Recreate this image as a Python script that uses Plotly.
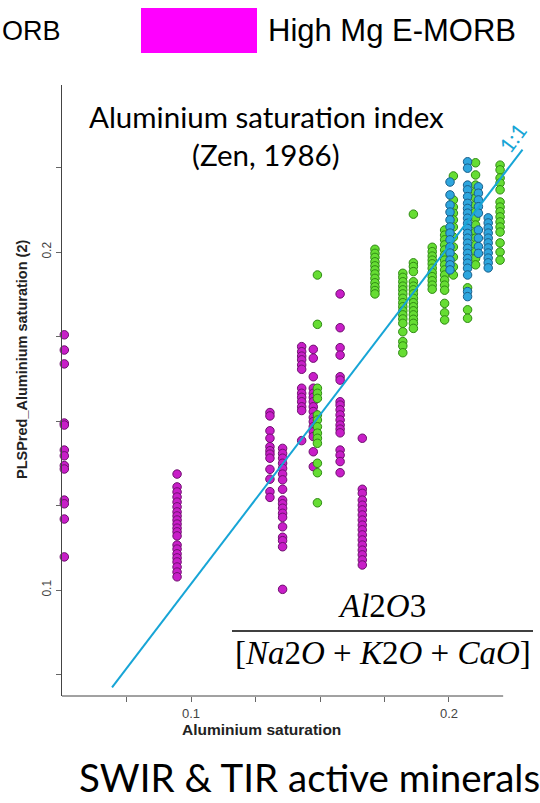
import plotly.graph_objects as go

# ---------------- data ----------------
# High Mg E-MORB (magenta) columns: x value and y values
mag_x = [0.0509, 0.0946, 0.1306, 0.1355, 0.1429, 0.1474, 0.1578, 0.1664]
mag_y = [
    [0.1755, 0.1710, 0.1669, 0.1494, 0.1488, 0.1414, 0.1397, 0.1368, 0.1358, 0.1266, 0.1255, 0.1210, 0.1098],
    [0.1343, 0.1305, 0.1290, 0.1275, 0.1260, 0.1246, 0.1231, 0.1219, 0.1207, 0.1195, 0.1183, 0.1172,
     0.1160, 0.1133, 0.1121, 0.1107, 0.1095, 0.1083, 0.1068, 0.1053, 0.1039],
    [0.1525, 0.1515, 0.1471, 0.1449, 0.1424, 0.1412, 0.1402, 0.1390, 0.1357, 0.1328, 0.1291, 0.1274],
    [0.1419, 0.1404, 0.1390, 0.1375, 0.1360, 0.1343, 0.1326, 0.1298, 0.1266, 0.1255, 0.1242, 0.1227,
     0.1215, 0.1187, 0.1156, 0.1146, 0.1128, 0.1002],
    [0.1720, 0.1705, 0.1692, 0.1681, 0.1666, 0.1653, 0.1597, 0.1582, 0.1570, 0.1557, 0.1542, 0.1531, 0.1442],
    [0.1712, 0.1686, 0.1631, 0.1597, 0.1582, 0.1570, 0.1557, 0.1542, 0.1528, 0.1511, 0.1498, 0.1483,
     0.1468, 0.1454, 0.1409, 0.1365],
    [0.1876, 0.1776, 0.1717, 0.1695, 0.1631, 0.1621, 0.1557, 0.1547, 0.1533, 0.1518, 0.1503, 0.1488,
     0.1476, 0.1465, 0.1414, 0.1399, 0.1380, 0.1347],
    [0.1449, 0.1298, 0.1286, 0.1266, 0.1251, 0.1237, 0.1222, 0.1207, 0.1192, 0.1178, 0.1163, 0.1148,
     0.1133, 0.1118, 0.1104, 0.1089, 0.1074],
]

# green series columns
grn_x = [0.1490, 0.1713, 0.1821, 0.1862, 0.1935, 0.1983, 0.2017, 0.2072, 0.2103, 0.2198]
grn_y = [
    [0.1932, 0.1786, 0.1597, 0.1582, 0.1567, 0.1518, 0.1503, 0.1483, 0.1464, 0.1449, 0.1434, 0.1375, 0.1347, 0.1258],
    [0.2008, 0.1996, 0.1984, 0.1971, 0.1959, 0.1947, 0.1935, 0.1922, 0.1909, 0.1897, 0.1886, 0.1876],
    [0.1937, 0.1925, 0.1912, 0.1899, 0.1888, 0.1876, 0.1863, 0.1850, 0.1838, 0.1826, 0.1814, 0.1802,
     0.1789, 0.1764, 0.1735, 0.1722, 0.1702],
    [0.2112, 0.1968, 0.1957, 0.1942, 0.1912, 0.1899, 0.1888, 0.1876, 0.1863, 0.1850, 0.1838, 0.1826,
     0.1814, 0.1801, 0.1789, 0.1774],
    [0.2014, 0.2001, 0.1988, 0.1976, 0.1965, 0.1952, 0.1939, 0.1927, 0.1915, 0.1902, 0.1890],
    [0.2065, 0.2050, 0.2036, 0.2021, 0.2006, 0.1991, 0.1976, 0.1962, 0.1947, 0.1932, 0.1917, 0.1902,
     0.1887, 0.1848, 0.1820, 0.1799],
    [0.2225, 0.2154, 0.2133, 0.2115, 0.2095, 0.2074, 0.2044, 0.2015, 0.1985, 0.1956, 0.1932],
    [0.1894, 0.1829, 0.1804],
    [0.2264, 0.2228, 0.2198, 0.2178, 0.2159, 0.2139, 0.2119, 0.2100, 0.2080, 0.2060, 0.2041, 0.2021,
     0.2001, 0.1981, 0.1962],
    [0.2257, 0.2243, 0.2219, 0.2204, 0.2184, 0.2148, 0.2133, 0.2119, 0.2104, 0.2089, 0.2074, 0.2059,
     0.2027, 0.2000, 0.1976],
]

# blue series columns
blu_x = [0.2004, 0.2072, 0.2114, 0.2152]
blu_y = [
    [0.2207, 0.2169, 0.2139, 0.2118, 0.2095, 0.2074, 0.2056, 0.2036, 0.2015, 0.1997, 0.1976, 0.1962, 0.1947],
    [0.2267, 0.2248, 0.2198, 0.2184, 0.2164, 0.2144, 0.2129, 0.2115, 0.2100, 0.2085, 0.2070, 0.2055,
     0.2041, 0.2026, 0.2011, 0.1996, 0.1981, 0.1967, 0.1952, 0.1932, 0.1883, 0.1868],
    [0.2193, 0.2174, 0.2154, 0.2134, 0.2115, 0.2065, 0.2041, 0.2016, 0.1996],
    [0.2101, 0.2086, 0.2071, 0.2056, 0.2041, 0.2027, 0.2012, 0.1997, 0.1982, 0.1968, 0.1953],
]

# 1:1 reference line (as drawn)
ref_x = [0.0694, 0.2285]
ref_y = [0.0712, 0.2303]

x_tick_vals = [0.075, 0.1, 0.125, 0.15, 0.175, 0.2]
x_tick_text = ["", "0.1", "", "", "", "0.2"]
y_tick_vals = [0.075, 0.1, 0.125, 0.15, 0.175, 0.2, 0.225]
y_tick_text = ["", "0.1", "", "", "", "0.2", ""]

X_RANGE = [0.05, 0.22946]
Y_RANGE = [0.06864, 0.24941]
X_AXIS_END = 0.221


def flatten(xs, ys):
    fx, fy = [], []
    for xv, col in zip(xs, ys):
        for yv in col:
            fx.append(xv)
            fy.append(yv)
    return fx, fy


fig = go.Figure()

series = [
    ("High Mg E-MORB", mag_x, mag_y, "#c81ec8", "#6e106e"),
    ("N-MORB", grn_x, grn_y, "#66dd33", "#2f8a14"),
    ("Other", blu_x, blu_y, "#2ea6de", "#1a5f8a"),
]
for name, xs, ys, fill, edge in series:
    fx, fy = flatten(xs, ys)
    fig.add_trace(go.Scatter(
        x=fx, y=fy, mode="markers", name=name, showlegend=False,
        marker=dict(size=8.5, color=fill, line=dict(color=edge, width=1)),
        cliponaxis=False,
    ))

fig.add_trace(go.Scatter(
    x=ref_x, y=ref_y, mode="lines", showlegend=False,
    line=dict(color="#17a5d6", width=2), cliponaxis=False,
))

fig.update_layout(
    width=540, height=803,
    margin=dict(l=62, r=15, t=85, b=107),
    paper_bgcolor="white", plot_bgcolor="white",
    showlegend=False,
    xaxis=dict(
        range=X_RANGE, showgrid=False, zeroline=False, showline=False,
        tickmode="array", tickvals=x_tick_vals, ticktext=x_tick_text,
        ticks="outside", ticklen=5, tickcolor="#666666",
        tickfont=dict(family="Liberation Sans, Arial", size=13, color="#444444"),
    ),
    yaxis=dict(
        range=Y_RANGE, showgrid=False, zeroline=False, showline=True,
        linecolor="#444444", linewidth=1,
        tickmode="array", tickvals=y_tick_vals, ticktext=y_tick_text,
        ticks="outside", ticklen=5, tickcolor="#666666",
        tickfont=dict(family="Liberation Sans, Arial", size=12, color="#444444"),
        tickangle=-90,
    ),
)

shapes = [
    # x axis line (stops short of the plot edge)
    dict(type="line", xref="x", yref="paper", x0=X_RANGE[0], x1=X_AXIS_END, y0=0, y1=0,
         line=dict(color="#444444", width=1)),
    # legend swatch
    dict(type="rect", xref="paper", yref="paper",
         x0=(141 - 62) / 463, x1=(257 - 62) / 463,
         y0=(696 - 53) / 611, y1=(696 - 8) / 611,
         fillcolor="#ff00ff", line=dict(width=0)),
    # fraction bar
    dict(type="line", xref="paper", yref="paper",
         x0=(232 - 62) / 463, x1=(533 - 62) / 463,
         y0=(696 - 631) / 611, y1=(696 - 631) / 611,
         line=dict(color="black", width=1.5)),
]
fig.update_layout(shapes=shapes)


def px(xp):
    return (xp - 62) / 463


def py(yp):
    return (696 - yp) / 611


ann = []
ann.append(dict(text="ORB", x=px(0), y=py(31), xanchor="left", yanchor="middle",
                font=dict(family="Liberation Sans, Arial", size=27, color="black")))
ann.append(dict(text="High Mg E-MORB", x=px(266), y=py(31), xanchor="left", yanchor="middle",
                font=dict(family="Liberation Sans, Arial", size=31, color="black")))
ann.append(dict(text="Aluminium saturation index", x=px(266), y=py(116), xanchor="center", yanchor="middle",
                font=dict(family="Lato, Open Sans", size=29.5, color="black")))
ann.append(dict(text="(Zen, 1986)", x=px(266), y=py(154), xanchor="center", yanchor="middle",
                font=dict(family="Lato, Open Sans", size=29.5, color="black")))
ann.append(dict(text="1:1", x=px(512), y=py(137), xanchor="center", yanchor="middle", textangle=-53,
                font=dict(family="Lato, Open Sans", size=21, color="#17a5d6")))
ann.append(dict(text="<i>Al</i>2<i>O</i>3", x=px(382), y=py(606), xanchor="center", yanchor="middle",
                font=dict(family="Liberation Serif, DejaVu Serif", size=33, color="black")))
ann.append(dict(text="[<i>Na</i>2<i>O</i> + <i>K</i>2<i>O</i> + <i>CaO</i>]", x=px(383), y=py(653),
                xanchor="center", yanchor="middle",
                font=dict(family="Liberation Serif, DejaVu Serif", size=33, color="black")))
ann.append(dict(text="<b>Aluminium saturation</b>", x=px(261), y=py(729), xanchor="center", yanchor="middle",
                font=dict(family="Liberation Sans, Arial", size=15.5, color="#222222")))
ann.append(dict(text="<b>PLSPred_Aluminium saturation (2)</b>", x=px(22), y=py(360), xanchor="center",
                yanchor="middle", textangle=-90,
                font=dict(family="Liberation Sans, Arial", size=14.5, color="#222222")))
ann.append(dict(text="SWIR & TIR active minerals", x=px(77), y=py(777), xanchor="left", yanchor="middle",
                font=dict(family="Lato, Open Sans", size=38.5, color="black")))
for a in ann:
    a.update(xref="paper", yref="paper", showarrow=False)
fig.update_layout(annotations=ann)

fig.write_html("out.html", config={"displayModeBar": False},
               post_script="document.body.style.margin='0';")
